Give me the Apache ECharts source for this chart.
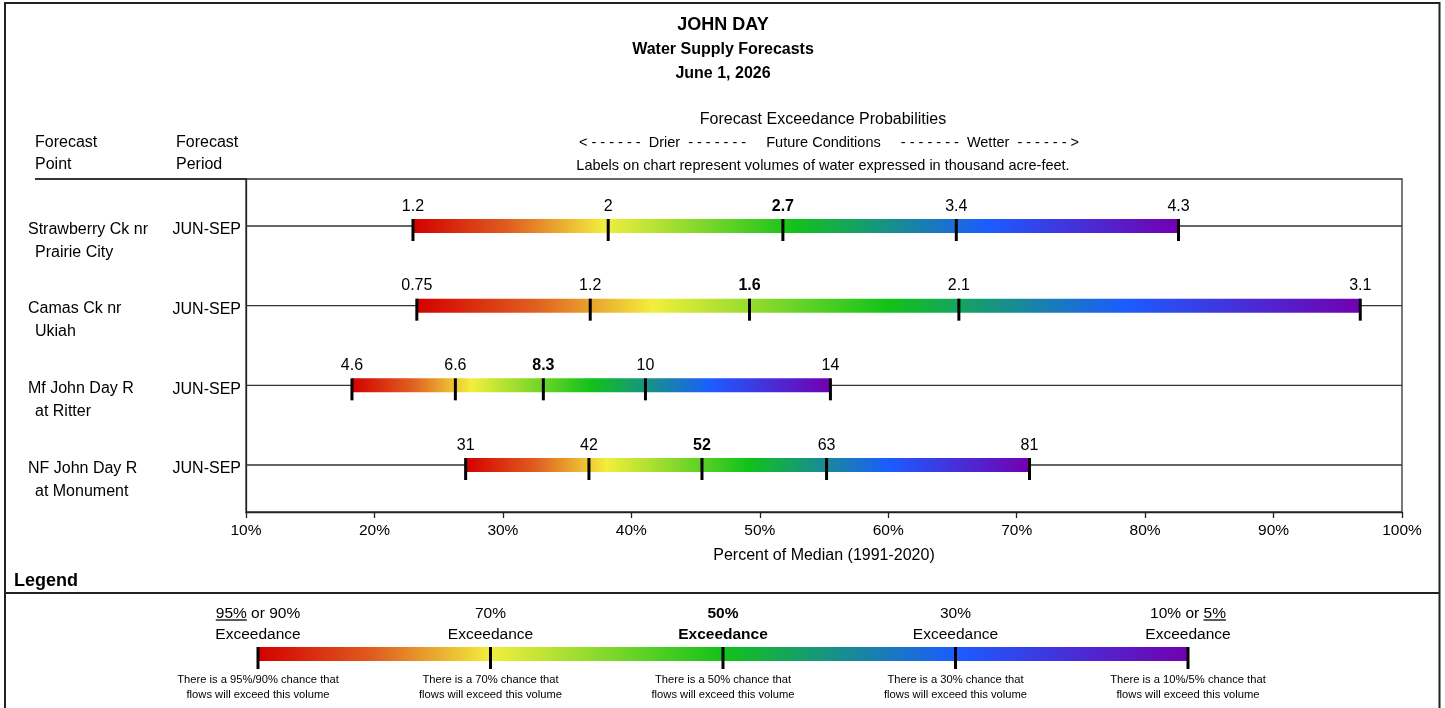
<!DOCTYPE html>
<html><head><meta charset="utf-8">
<script src="https://cdn.jsdelivr.net/npm/echarts@6/dist/echarts.min.js"></script>
<style>html,body{margin:0;padding:0;background:#fff}#c{width:1445px;height:708px}</style>
</head><body><div id="c"></div>
<script>
const FONT = '"Liberation Sans", Arial, Helvetica, sans-serif';

// ---- data ----
const stationLine1 = ['Strawberry Ck nr', 'Camas Ck nr', 'Mf John Day R', 'NF John Day R'];
const stationLine2 = ['Prairie City', 'Ukiah', 'at Ritter', 'at Monument'];
const periods = ['JUN-SEP', 'JUN-SEP', 'JUN-SEP', 'JUN-SEP'];
// percent of median at each exceedance level
const pct90 = [23.0, 23.3, 18.25, 27.1];
const pct70 = [38.2, 36.8, 26.3, 36.7];
const pct50 = [51.8, 49.2, 33.15, 45.5];
const pct30 = [65.3, 65.5, 41.1, 55.2];
const pct10 = [82.6, 96.75, 55.5, 71.0];
// volume labels (thousand acre-feet)
const vol90 = ['1.2', '0.75', '4.6', '31'];
const vol70 = ['2', '1.2', '6.6', '42'];
const vol50 = ['2.7', '1.6', '8.3', '52'];
const vol30 = ['3.4', '2.1', '10', '63'];
const vol10 = ['4.3', '3.1', '14', '81'];
const xMin = 10, xMax = 100, xStep = 10;
const legendTop = ['95% or 90%', '70%', '50%', '30%', '10% or 5%'];
const legendNote1 = ['There is a 95%/90% chance that', 'There is a 70% chance that', 'There is a 50% chance that', 'There is a 30% chance that', 'There is a 10%/5% chance that'];
const legendNote2 = 'flows will exceed this volume';

// ---- styles ----
const gradStops = [
  {offset: 0, color: '#d40000'},
  {offset: 0.125, color: '#e05e20'},
  {offset: 0.25, color: '#f2ee3c'},
  {offset: 0.5, color: '#12c21a'},
  {offset: 0.75, color: '#1c5cff'},
  {offset: 1, color: '#7200b0'}
];
function grad() { return {type: 'linear', x: 0, y: 0, x2: 1, y2: 0, colorStops: gradStops}; }

function txt(text, x, y, size, opts) {
  opts = opts || {};
  return {
    type: 'text', silent: true, z: 10,
    style: {
      text: text, x: x, y: y + size * 0.15,
      font: (opts.bold ? 'bold ' : '') + size + 'px ' + FONT,
      fill: opts.color || '#000',
      align: opts.align || 'center', textAlign: opts.align || 'center',
      verticalAlign: 'middle', textVerticalAlign: 'middle'
    }
  };
}

const mctx = document.createElement('canvas').getContext('2d');
function measure(t, size, bold) { mctx.font = (bold ? 'bold ' : '') + size + 'px ' + FONT; return mctx.measureText(t).width; }

const seriesData = pct90.map((v, i) => [i + 1, pct90[i], pct70[i], pct50[i], pct30[i], pct10[i]]);

function renderItem(params, api) {
  const i = params.dataIndex;
  const row = api.value(0);
  const cs = params.coordSys;
  const xs = [1, 2, 3, 4, 5].map(k => api.coord([api.value(k), row])[0]);
  const y = api.coord([xMin, row])[1];
  const vols = [vol90[i], vol70[i], vol50[i], vol30[i], vol10[i]];
  const ch = [];
  ch.push({type: 'line', shape: {x1: cs.x, y1: y, x2: cs.x + cs.width, y2: y}, style: {stroke: '#333', lineWidth: 1.3}});
  ch.push({type: 'rect', shape: {x: xs[0], y: y - 7, width: xs[4] - xs[0], height: 14}, style: {fill: grad()}});
  xs.forEach((x, k) => {
    ch.push({type: 'rect', shape: {x: x - 1.5, y: y - 7, width: 3, height: 22}, style: {fill: '#000'}});
    ch.push(txt(vols[k], x, y - 22, 16, {bold: k === 2}));
  });
  ch.push(txt(stationLine1[i], cs.x - 218, y + 1, 16, {align: 'left'}));
  ch.push(txt(stationLine2[i], cs.x - 211, y + 24, 16, {align: 'left'}));
  ch.push(txt(periods[i], cs.x - 5, y + 1.5, 16, {align: 'right'}));
  return {type: 'group', children: ch};
}

// ---- static layout graphics ----
const g = [];
g.push({type: 'rect', shape: {x: 5, y: 3, width: 1434.5, height: 712}, style: {fill: 'none', stroke: '#222', lineWidth: 2}, silent: true});
g.push(txt('JOHN DAY', 723, 22, 18, {bold: true}));
g.push(txt('Water Supply Forecasts', 723, 47, 16, {bold: true}));
g.push(txt('June 1, 2026', 723, 71, 16, {bold: true}));
g.push(txt('Forecast Exceedance Probabilities', 823, 117, 16));
g.push(txt('< - - - - - -  Drier  - - - - - - -     Future Conditions     - - - - - - -  Wetter  - - - - - - >', 829, 141, 14.5));
g.push(txt('Labels on chart represent volumes of water expressed in thousand acre-feet.', 823, 164, 14.5));
g.push(txt('Forecast', 35, 140, 16, {align: 'left'}));
g.push(txt('Point', 35, 162, 16, {align: 'left'}));
g.push(txt('Forecast', 176, 140, 16, {align: 'left'}));
g.push(txt('Period', 176, 162, 16, {align: 'left'}));
g.push({type: 'line', shape: {x1: 35, y1: 179, x2: 246, y2: 179}, style: {stroke: '#333', lineWidth: 2}, silent: true});
g.push(txt('Legend', 14, 578, 18, {bold: true, align: 'left'}));
g.push({type: 'line', shape: {x1: 5, y1: 593, x2: 1440, y2: 593}, style: {stroke: '#222', lineWidth: 2}, silent: true});

// legend bar
const lgX0 = 258, lgX1 = 1188, lgY = 647;
const lgStep = (lgX1 - lgX0) / 4;
g.push({type: 'rect', shape: {x: lgX0, y: lgY, width: lgX1 - lgX0, height: 14}, style: {fill: grad()}, silent: true});
legendTop.forEach((t, k) => {
  const x = lgX0 + k * lgStep;
  g.push({type: 'rect', shape: {x: x - 1.5, y: lgY, width: 3, height: 22}, style: {fill: '#000'}, silent: true});
  const bold = k === 2;
  g.push(txt(t, x, 611, 15.5, {bold: bold}));
  g.push(txt('Exceedance', x, 632, 15.5, {bold: bold}));
  g.push(txt(legendNote1[k], x, 678, 11.2));
  g.push(txt(legendNote2, x, 693, 11.2));
});
// underlines on "95%" and "5%"
(function () {
  const w0 = measure(legendTop[0], 15.5), u0 = measure('95%', 15.5);
  const l0 = lgX0 - w0 / 2;
  g.push({type: 'line', shape: {x1: l0, y1: 620, x2: l0 + u0, y2: 620}, style: {stroke: '#000', lineWidth: 1.3}, silent: true});
  const w4 = measure(legendTop[4], 15.5), u4 = measure('5%', 15.5);
  const r4 = lgX1 + w4 / 2;
  g.push({type: 'line', shape: {x1: r4 - u4, y1: 620, x2: r4, y2: 620}, style: {stroke: '#000', lineWidth: 1.3}, silent: true});
})();

const chart = echarts.init(document.getElementById('c'), null, {renderer: 'canvas'});
chart.setOption({
  animation: false,
  backgroundColor: '#fff',
  grid: {left: 246, right: 43, top: 179, bottom: 196, show: true, borderColor: '#333', borderWidth: 1.3, containLabel: false},
  xAxis: {
    type: 'value', min: xMin, max: xMax, interval: xStep,
    axisLine: {show: true, lineStyle: {color: '#222', width: 1.3}},
    axisTick: {show: true, length: 6, lineStyle: {color: '#222', width: 1.3}},
    axisLabel: {formatter: '{value}%', color: '#000', fontSize: 15.5, fontFamily: FONT, margin: 11},
    splitLine: {show: false},
    name: 'Percent of Median (1991-2020)', nameLocation: 'middle', nameGap: 36,
    nameTextStyle: {color: '#000', fontSize: 16, fontFamily: FONT}
  },
  yAxis: {
    type: 'value', min: 0.41, max: 4.59, inverse: true,
    axisLine: {show: true, onZero: false, lineStyle: {color: '#222', width: 1.3}},
    axisTick: {show: false}, axisLabel: {show: false}, splitLine: {show: false}
  },
  series: [{
    type: 'custom', renderItem: renderItem, data: seriesData,
    encode: {x: [1, 2, 3, 4, 5], y: 0}, clip: false, silent: true
  }],
  graphic: {elements: g}
});
</script></body></html>
